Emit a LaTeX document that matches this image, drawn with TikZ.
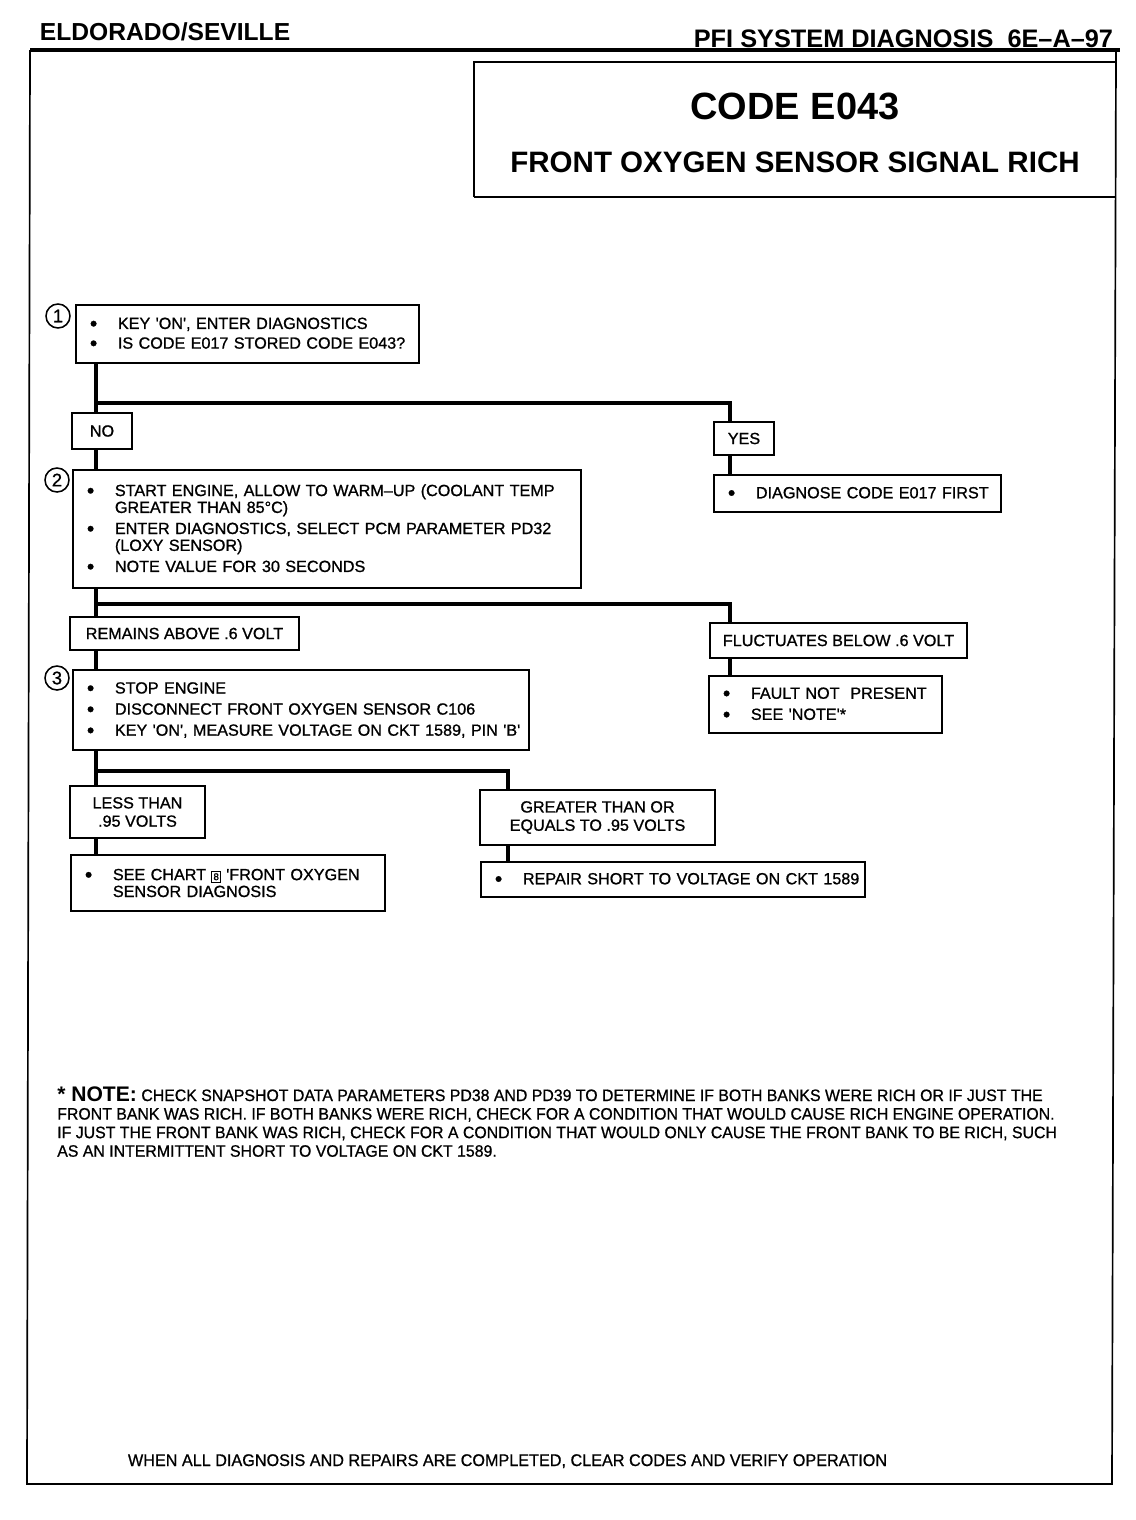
\documentclass[tikz,border=0pt]{standalone}
\usepackage{fontspec}
\setmainfont{Liberation Sans}
\newfontfamily\boxfont{Liberation Sans}[FakeBold=1]
\newfontfamily\narrowfont{Liberation Sans}[FakeStretch=0.96, FakeBold=0.8]
\newcommand{\itm}[1]{\makebox[0.7cm][l]{\raisebox{-0.2ex}{\fontsize{15}{15}\selectfont\textbullet}}\mbox{#1}}
\newcommand{\cnt}[1]{\hspace*{0.7cm}\mbox{#1}}
\newcommand{\chartref}[1]{{\setlength{\fboxsep}{1pt}\fbox{\fontsize{7}{7}\selectfont #1}}}
\tikzset{
  stepbox/.style = {draw, line width=1.3pt, align=left, anchor=west,
                    inner xsep=0.35cm, inner ysep=2pt,
                    font=\boxfont\fontsize{11.5}{12}\selectfont},
  answer/.style  = {draw, line width=1.3pt, align=center, inner sep=2pt,
                    font=\boxfont\fontsize{11.5}{13}\selectfont},
  stepnum/.style = {circle, draw, line width=1.1pt, minimum size=0.6cm,
                    inner sep=0pt, font=\boxfont\fontsize{13}{13}\selectfont},
  link/.style    = {line width=2.2pt},
}

\begin{document}
\begin{tikzpicture}[x=0.025cm, y=-0.025cm]
  \useasboundingbox (0,0) rectangle (1136,1520);

  % page header and frame
  \node[anchor=base west, font=\bfseries\fontsize{17.5}{18}\selectfont] (car) at (35,40) {ELDORADO/SEVILLE};
  \node[anchor=base east, font=\bfseries\fontsize{18}{18}\selectfont] (sect) at (1118,47) {PFI SYSTEM DIAGNOSIS\ \ 6E--A--97};
  \draw[line width=2.5pt] (30,50) -- (1120,50);
  \draw[line width=1.2pt] (30,50) -- (27,1484) -- (1112,1484) -- (1116,50);

  % title block
  \draw[line width=1.3pt] (474,197) -- (474,62) -- (1116,62);
  \draw[line width=1.3pt] (474,197) -- (1116,197);
  \node[anchor=base, font=\bfseries\fontsize{27}{27}\selectfont] (code) at (795,119) {CODE E043};
  \node[anchor=base, font=\bfseries\fontsize{21}{21}\selectfont] (name) at (795,172) {FRONT OXYGEN SENSOR SIGNAL RICH};

  % steps
  \node[stepbox, text width=7.875cm, minimum height=1.45cm] (chk) at (75,334)
    {\itm{KEY 'ON', ENTER DIAGNOSTICS}\\[2pt]
     \itm{IS CODE E017 STORED CODE E043?}};
  \node[stepnum] (n1) at (58,316) {1};

  \node[answer, minimum width=1.5cm, minimum height=0.9cm] (no) at (102,431) {NO};
  \node[answer, minimum width=1.5cm, minimum height=0.825cm] (yes) at (744,438.5) {YES};
  \node[stepbox, text width=6.475cm, minimum height=0.925cm] (first) at (713,493.5)
    {\itm{DIAGNOSE CODE E017 FIRST}};

  \node[stepbox, text width=12.0cm, minimum height=2.95cm] (warm) at (72,529)
    {\itm{START ENGINE, ALLOW TO WARM–UP (COOLANT TEMP}\\
     \cnt{GREATER THAN 85°C)}\\[3pt]
     \itm{ENTER DIAGNOSTICS, SELECT PCM PARAMETER PD32}\\
     \cnt{(LOXY SENSOR)}\\[3pt]
     \itm{NOTE VALUE FOR 30 SECONDS}};
  \node[stepnum] (n2) at (57,480) {2};

  \node[answer, minimum width=5.725cm, minimum height=0.825cm] (high) at (184.5,633.5) {REMAINS ABOVE .6 VOLT};
  \node[answer, minimum width=6.425cm, minimum height=0.875cm] (fluct) at (838.5,640.5) {FLUCTUATES BELOW .6 VOLT};
  \node[stepbox, text width=5.125cm, minimum height=1.425cm] (nofault) at (708,704.5)
    {\itm{FAULT NOT\ \ PRESENT}\\[3pt]
     \itm{SEE 'NOTE'*}};

  \node[stepbox, text width=10.7cm, minimum height=2.0cm] (stop) at (72,710)
    {\itm{STOP ENGINE}\\[3pt]
     \itm{DISCONNECT FRONT OXYGEN SENSOR C106}\\[3pt]
     \itm{KEY 'ON', MEASURE VOLTAGE ON CKT 1589, PIN 'B'}};
  \node[stepnum] (n3) at (57,678) {3};

  \node[answer, minimum width=3.375cm, minimum height=1.3cm] (less) at (137.5,812) {LESS THAN\\.95 VOLTS};
  \node[answer, minimum width=5.875cm, minimum height=1.375cm] (geq) at (597.5,817.5) {GREATER THAN OR\\EQUALS TO .95 VOLTS};
  \node[stepbox, text width=7.15cm, minimum height=1.4cm] (chart) at (70,883)
    {\itm{SEE CHART \chartref{8} 'FRONT OXYGEN}\\
     \cnt{SENSOR DIAGNOSIS}};
  \node[stepbox, text width=8.9cm, minimum height=0.875cm] (repair) at (480,879.5)
    {\itm{REPAIR SHORT TO VOLTAGE ON CKT 1589}};

  % connectors
  \coordinate (lt) at (96,0);
  \coordinate (rt) at (730,0);
  \coordinate (mt) at (508,0);
  \coordinate (b1) at (96,403);
  \coordinate (b2) at (96,604);
  \coordinate (b3) at (96,771);
  \draw[link] (chk.south -| lt) -- (no.north -| lt);
  \draw[link] (no.south -| lt) -- (warm.north -| lt);
  \draw[link] (b1) -- (b1 -| rt) -- (yes.north -| rt);
  \draw[link] (yes.south -| rt) -- (first.north -| rt);
  \draw[link] (warm.south -| lt) -- (high.north -| lt);
  \draw[link] (high.south -| lt) -- (stop.north -| lt);
  \draw[link] (b2) -- (b2 -| rt) -- (fluct.north -| rt);
  \draw[link] (fluct.south -| rt) -- (nofault.north -| rt);
  \draw[link] (stop.south -| lt) -- (less.north -| lt);
  \draw[link] (less.south -| lt) -- (chart.north -| lt);
  \draw[link] (b3) -- (b3 -| mt) -- (geq.north -| mt);
  \draw[link] (geq.south -| mt) -- (repair.north -| mt);

  % note and footer
  \node[anchor=north west, align=left, inner sep=0pt,
        font=\narrowfont\fontsize{11.75}{13.2}\selectfont] (note) at (57,1086)
    {{\normalfont\bfseries\fontsize{15}{15}\selectfont * NOTE:} CHECK SNAPSHOT DATA PARAMETERS PD38 AND PD39 TO DETERMINE IF BOTH BANKS WERE RICH OR IF JUST THE\\
     FRONT BANK WAS RICH. IF BOTH BANKS WERE RICH, CHECK FOR A CONDITION THAT WOULD CAUSE RICH ENGINE OPERATION.\\
     IF JUST THE FRONT BANK WAS RICH, CHECK FOR A CONDITION THAT WOULD ONLY CAUSE THE FRONT BANK TO BE RICH, SUCH\\
     AS AN INTERMITTENT SHORT TO VOLTAGE ON CKT 1589.};
  \node[anchor=base west, font=\narrowfont\fontsize{12}{12}\selectfont] (done) at (123,1466)
    {WHEN ALL DIAGNOSIS AND REPAIRS ARE COMPLETED, CLEAR CODES AND VERIFY OPERATION};
\end{tikzpicture}
\end{document}
